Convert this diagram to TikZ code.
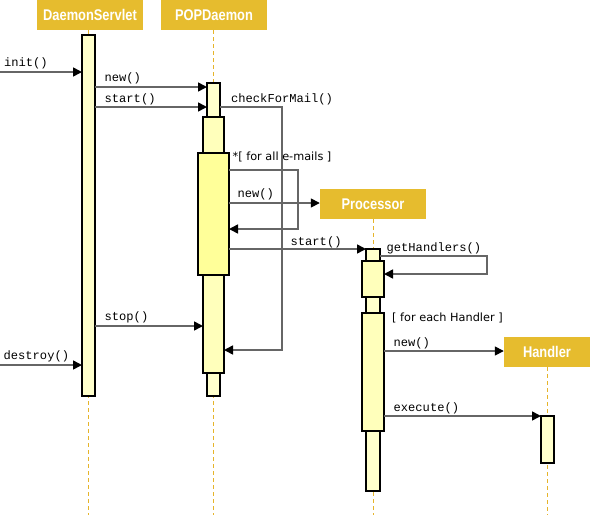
\documentclass[tikz,border=0pt]{standalone}
\usepackage{fontspec}
\setmainfont{Liberation Sans}
\newfontfamily\hdrfont[FakeStretch=0.83]{Liberation Sans}
\newfontfamily\codefont{Liberation Mono}
\newfontfamily\guardfont{DejaVu Sans}
\usetikzlibrary{arrows.meta}
\definecolor{hdr}{HTML}{E6BC2E}
\definecolor{life}{HTML}{E6B42A}
\definecolor{actA}{HTML}{FFFFCC}
\definecolor{actB}{HTML}{FFFFBB}
\definecolor{actC}{HTML}{FFFF99}
\definecolor{msgc}{HTML}{666666}
\tikzset{
  header/.style={fill=hdr, text=white, font=\hdrfont\bfseries\fontsize{15.5}{18}\selectfont, minimum height=30pt, inner sep=0pt},
  actbox/.style={draw=black, line width=1.8pt, anchor=north west, inner sep=0pt, outer sep=0pt},
  lifeline/.style={draw=life, line width=1pt, dash pattern=on 4pt off 3pt},
  msg/.style={draw=msgc, line width=1.6pt, -{Triangle[length=9pt,width=9pt,color=black]}},
  code/.style={font=\codefont\fontsize{12.1}{13}\selectfont, anchor=base west, inner sep=0pt, text=black},
  guard/.style={font=\guardfont\fontsize{11.3}{13}\selectfont, anchor=base west, inner sep=0pt, text=black},
}
\begin{document}
\begin{tikzpicture}[x=1pt,y=-1pt]
\useasboundingbox (0,0) rectangle (590,515);
% headers
\node[header, minimum width=106pt] (hds) at (90,15) {DaemonServlet};
\node[header, minimum width=106pt] (hpop) at (214,15) {POPDaemon};
\node[header, minimum width=106pt] (hpro) at (373,204) {Processor};
\node[header, minimum width=86pt] (hhan) at (547,352) {Handler};
% lifelines
\draw[lifeline] (88,30) -- (88,515);
\draw[lifeline] (213,30) -- (213,515);
\draw[lifeline] (373,219) -- (373,515);
\draw[lifeline] (547,367) -- (547,515);
% activation bars
\node[actbox, fill=actA, minimum width=13pt, minimum height=361pt] (ds) at (82,35) {};
\node[actbox, fill=actA, minimum width=13pt, minimum height=313pt] (pa) at (207,83) {};
\node[actbox, fill=actB, minimum width=21pt, minimum height=256pt] (pb) at (203,117) {};
\node[actbox, fill=actC, minimum width=31pt, minimum height=122pt] (pc) at (198,153) {};
\node[actbox, fill=actA, minimum width=14pt, minimum height=242pt] (ra) at (366,249) {};
\node[actbox, fill=actB, minimum width=22pt, minimum height=36pt] (rb) at (362,261) {};
\node[actbox, fill=actB, minimum width=22pt, minimum height=118pt] (rc) at (362,313) {};
\node[actbox, fill=actA, minimum width=13pt, minimum height=47pt] (ha) at (541,416) {};
% free ends
\coordinate (lin) at (0,72);
\coordinate (ldes) at (0,365);
% messages
\draw[msg] (lin) -- (ds.west|-lin);
\node[code] (tinit) at (4,66) {init()};
\draw[msg] (ds.east|-0,87) -- (pa.west|-0,87);
\node[code] (tnew1) at (104.5,81) {new()};
\draw[msg] (ds.east|-0,107) -- (pa.west|-0,107);
\node[code] (tstart1) at (104.5,102) {start()};
\draw[msg] (pa.east|-0,107) -- (282,107) -- (282,350) -- (pb.east|-0,350);
\node[code] (tcheck) at (231,102) {checkForMail()};
\node[guard] (tall) at (232.5,160) {*[ for all e-mails ]};
\draw[msg] (pc.east|-0,170) -- (298,170) -- (298,229) -- (pc.east|-0,229);
\draw[msg] (pc.east|-0,203) -- (hpro.west|-0,203);
\node[code] (tnew2) at (237.5,197) {new()};
\draw[msg] (pc.east|-0,249) -- (ra.west|-0,249);
\node[code] (tstart2) at (290.5,245) {start()};
\draw[msg] (ra.east|-0,256) -- (487,256) -- (487,274) -- (rb.east|-0,274);
\node[code] (tget) at (386.5,251) {getHandlers()};
\node[guard] (teach) at (392,321) {[ for each Handler ]};
\draw[msg] (rc.east|-0,351) -- (hhan.west|-0,351);
\node[code] (tnew3) at (393.5,346) {new()};
\draw[msg] (rc.east|-0,416) -- (ha.west|-0,416);
\node[code] (texec) at (393.5,411) {execute()};
\draw[msg] (ds.east|-0,326) -- (pb.west|-0,326);
\node[code] (tstop) at (104.5,320) {stop()};
\draw[msg] (ldes) -- (ds.west|-ldes);
\node[code] (tdes) at (3.5,359) {destroy()};
\end{tikzpicture}
\end{document}
